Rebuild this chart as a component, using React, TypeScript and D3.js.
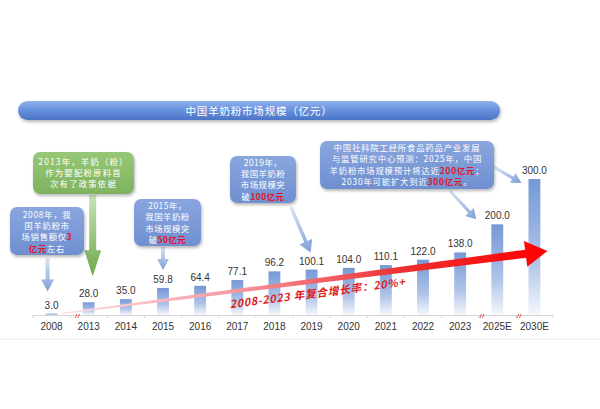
import React from "react";
import * as d3 from "d3";

const categories = ["2008", "2013", "2014", "2015", "2016", "2017", "2018", "2019", "2020", "2021", "2022", "2023", "2025E", "2030E"];
const marketSize = [3.0, 28.0, 35.0, 59.8, 64.4, 77.1, 96.2, 100.1, 104.0, 110.1, 122.0, 138.0, 200.0, 300.0];
const titleText = "中国羊奶粉市场规模（亿元）";
const cagrText = "2008-2023 年复合增长率：20%+";

type Seg = { t: string; red?: boolean };
type Note = { x: number; y: number; w: number; h: number; green?: boolean; lines: Seg[][]; lineY: number; lh: number; fs: number; ls: number };

const notes: Note[] = [
  {
    x: 10, y: 207, w: 74, h: 48, lineY: 218, lh: 11.2, fs: 8.4, ls: 0.7,
    lines: [[{ t: "2008年，我" }], [{ t: "国羊奶粉市" }], [{ t: "场销售额仅" }, { t: "3", red: true }], [{ t: "亿元", red: true }, { t: "左右" }]],
  },
  {
    x: 33, y: 152, w: 101, h: 42, green: true, lineY: 165, lh: 11.2, fs: 8.4, ls: 1.2,
    lines: [[{ t: "2013年，羊奶（粉）" }], [{ t: "作为婴配粉原料首" }], [{ t: "次有了政策依据" }]],
  },
  {
    x: 134, y: 199, w: 67, h: 47, lineY: 209, lh: 11.3, fs: 8.4, ls: 0.5,
    lines: [[{ t: "2015年，" }], [{ t: "我国羊奶粉" }], [{ t: "市场规模突" }], [{ t: "破" }, { t: "50亿元", red: true }]],
  },
  {
    x: 230, y: 156, w: 66, h: 47, lineY: 166, lh: 11.2, fs: 8.4, ls: 0.5,
    lines: [[{ t: "2019年，" }], [{ t: "我国羊奶粉" }], [{ t: "市场规模突" }], [{ t: "破" }, { t: "100亿元", red: true }]],
  },
  {
    x: 320, y: 141, w: 174, h: 48, lineY: 151, lh: 11.3, fs: 8.4, ls: 0.8,
    lines: [
      [{ t: "中国社科院工经所食品药品产业发展" }],
      [{ t: "与监管研究中心预测：2025年，中国" }],
      [{ t: "羊奶粉市场规模预计将达近" }, { t: "200亿元", red: true }, { t: "；" }],
      [{ t: "2030年可能扩大到近" }, { t: "300亿元", red: true }, { t: "。" }],
    ],
  },
];

function blockArrow(x1: number, y1: number, x2: number, y2: number, sw: number, hw: number, hl: number) {
  const dx = x2 - x1, dy = y2 - y1;
  const L = Math.hypot(dx, dy);
  const ux = dx / L, uy = dy / L;
  const px = -uy, py = ux;
  const bx = x2 - ux * hl, by = y2 - uy * hl;
  const p = (x: number, y: number) => `${x.toFixed(1)},${y.toFixed(1)}`;
  return (
    "M" + p(x1 + px * sw / 2, y1 + py * sw / 2) +
    "L" + p(bx + px * sw / 2, by + py * sw / 2) +
    "L" + p(bx + px * hw / 2, by + py * hw / 2) +
    "L" + p(x2, y2) +
    "L" + p(bx - px * hw / 2, by - py * hw / 2) +
    "L" + p(bx - px * sw / 2, by - py * sw / 2) +
    "L" + p(x1 - px * sw / 2, y1 - py * sw / 2) + "Z"
  );
}

export default function App() {
  const W = 600, H = 409;
  const x = d3.scaleBand<string>().domain(categories).range([33, 553]).paddingInner(0.68).paddingOuter(0.34);
  const y = d3.scaleLinear().domain([0, 300]).range([315, 179]);
  const cx = (c: string) => (x(c) as number) + x.bandwidth() / 2;
  const base = y(0);
  const step = x.step();

  // red CAGR arrow
  const ax1 = cx("2008") + 10, ay1 = base - 1.5;
  const ax2 = cx("2030E") + 13, ay2 = 251;
  const ang = Math.atan2(ay2 - ay1, ax2 - ax1);
  const ux = Math.cos(ang), uy = Math.sin(ang), px = -uy, py = ux;
  const headL = 22, headW = 26;
  const hbx = ax2 - ux * headL, hby = ay2 - uy * headL;
  const w0 = 1.5, w1 = 8;
  const q = (a: number, b: number) => `${a.toFixed(1)},${b.toFixed(1)}`;
  const redPath =
    "M" + q(ax1 + px * w0 / 2, ay1 + py * w0 / 2) +
    "L" + q(hbx + px * w1 / 2, hby + py * w1 / 2) +
    "L" + q(hbx + px * headW / 2, hby + py * headW / 2) +
    "L" + q(ax2, ay2) +
    "L" + q(hbx - px * headW / 2, hby - py * headW / 2) +
    "L" + q(hbx - px * w1 / 2, hby - py * w1 / 2) +
    "L" + q(ax1 - px * w0 / 2, ay1 - py * w0 / 2) + "Z";
  const angDeg = (ang * 180) / Math.PI;

  const arrows = [
    { id: "a1", x1: cx("2008") - 4, y1: 258, x2: cx("2008") - 4, y2: y(3) - 22, sw: 4, hw: 13, hl: 12, green: false },
    { id: "a2", x1: cx("2013") + 4, y1: 195, x2: cx("2013") + 4, y2: y(28) - 26, sw: 7, hw: 17, hl: 26, green: true },
    { id: "a3", x1: cx("2015"), y1: 247, x2: cx("2015"), y2: y(59.8) - 18, sw: 4, hw: 12, hl: 11, green: false },
    { id: "a4", x1: 291, y1: 207, x2: cx("2019") - 1, y2: y(100.1) - 17, sw: 3.5, hw: 14, hl: 12, green: false },
    { id: "a5", x1: 450, y1: 191, x2: cx("2025E") - 21, y2: y(200) - 5, sw: 3, hw: 12, hl: 10, green: false },
    { id: "a6", x1: 494, y1: 167, x2: cx("2030E") - 13, y2: y(300) + 4, sw: 3, hw: 11, hl: 10, green: false },
  ];

  const font = "'Liberation Sans', Arial, sans-serif";
  const cjk = "'Noto Sans CJK SC', 'Noto Sans', sans-serif";

  return (
    <svg width={W} height={H} viewBox={`0 0 ${W} ${H}`} style={{ position: "absolute", left: 0, top: 0, background: "#fff" }}>
      <defs>
        <linearGradient id="barGrad" x1="0" y1="0" x2="0" y2="1">
          <stop offset="0%" stopColor="#7598d6" />
          <stop offset="60%" stopColor="#aec3e8" />
          <stop offset="100%" stopColor="#f4f7fc" />
        </linearGradient>
        <linearGradient id="titleGrad" x1="0" y1="0" x2="0" y2="1">
          <stop offset="0%" stopColor="#8fb0ea" />
          <stop offset="45%" stopColor="#6a93df" />
          <stop offset="100%" stopColor="#4a74c6" />
        </linearGradient>
        <linearGradient id="noteBlue" x1="0" y1="0" x2="0" y2="1">
          <stop offset="0%" stopColor="#89a6de" />
          <stop offset="100%" stopColor="#6f8fd0" />
        </linearGradient>
        <linearGradient id="noteGreen" x1="0" y1="0" x2="0" y2="1">
          <stop offset="0%" stopColor="#97c776" />
          <stop offset="100%" stopColor="#7fb35f" />
        </linearGradient>
        <linearGradient id="redGrad" gradientUnits="userSpaceOnUse" x1={ax1} y1={ay1} x2={ax2} y2={ay2}>
          <stop offset="0%" stopColor="#fbe3e6" />
          <stop offset="35%" stopColor="#f59aa2" />
          <stop offset="70%" stopColor="#ee3030" />
          <stop offset="100%" stopColor="#ff0000" />
        </linearGradient>
        {arrows.map((a) => (
          <linearGradient key={a.id} id={a.id} gradientUnits="userSpaceOnUse" x1={a.x1} y1={a.y1} x2={a.x2} y2={a.y2}>
            <stop offset="0%" stopColor={a.green ? "#c9e2b5" : "#dbe5f5"} />
            <stop offset="100%" stopColor={a.green ? "#6ea84c" : "#7f9fd8"} />
          </linearGradient>
        ))}
        <filter id="shadow" x="-20%" y="-20%" width="140%" height="150%">
          <feDropShadow dx="1" dy="2" stdDeviation="1.6" floodColor="#000" floodOpacity="0.28" />
        </filter>
      </defs>

      {/* title bar */}
      <rect x={18} y={101} width={482} height={19} rx={9.5} fill="url(#titleGrad)" filter="url(#shadow)" />
      <text x={259} y={114.5} textAnchor="middle" fontSize={10.5} fill="#fff" fontFamily={cjk} letterSpacing={0.8}>
        {titleText}
      </text>

      {/* bottom faint line */}
      <line x1={0} x2={W} y1={339} y2={339} stroke="#ececec" strokeWidth={1} />

      {/* bars */}
      {categories.map((c, i) => (
        <rect key={c} x={x(c)} y={y(marketSize[i])} width={x.bandwidth()} height={base - y(marketSize[i])} fill="url(#barGrad)" />
      ))}

      {/* axis */}
      <line x1={33} x2={553} y1={base + 0.5} y2={base + 0.5} stroke="#d6d6d6" strokeWidth={1} />
      {d3.range(categories.length + 1).map((i) => (
        <line key={i} x1={33 + i * step} x2={33 + i * step} y1={base} y2={base + 3} stroke="#d6d6d6" strokeWidth={1} />
      ))}
      {categories.map((c) => (
        <text key={c} x={cx(c)} y={330} textAnchor="middle" fontSize={10} fill="#333" fontFamily={font}>
          {c}
        </text>
      ))}

      {/* break marks */}
      {[33 + step, 33 + 12 * step - 4, 33 + 13 * step - 4].map((bx, i) => (
        <g key={i} stroke="#e03030" strokeWidth={0.8}>
          <line x1={bx + 5} y1={base + 3} x2={bx + 7} y2={base - 1} />
          <line x1={bx + 7.5} y1={base + 3} x2={bx + 9.5} y2={base - 1} />
        </g>
      ))}

      {/* value labels */}
      {categories.map((c, i) => (
        <text key={c} x={cx(c)} y={y(marketSize[i]) - 5} textAnchor="middle" fontSize={10} fill="#333" fontFamily={font}>
          {marketSize[i].toFixed(1)}
        </text>
      ))}

      {/* CAGR arrow */}
      <path d={redPath} fill="url(#redGrad)" />
      <text
        transform={`translate(318,297) rotate(${angDeg})`}
        textAnchor="middle"
        fontSize={10.8}
        fontWeight="bold"
        fontStyle="italic"
        fill="#e01b24"
        fontFamily={cjk}
        letterSpacing={0.7}
      >
        {cagrText}
      </text>

      {/* annotation arrows */}
      {arrows.map((a) => (
        <path key={a.id} d={blockArrow(a.x1, a.y1, a.x2, a.y2, a.sw, a.hw, a.hl)} fill={`url(#${a.id})`} />
      ))}

      {/* annotation boxes */}
      {notes.map((n, i) => (
        <g key={i}>
          <rect x={n.x} y={n.y} width={n.w} height={n.h} rx={7} fill={n.green ? "url(#noteGreen)" : "url(#noteBlue)"} filter="url(#shadow)" />
          {n.lines.map((line, j) => (
            <text
              key={j}
              x={n.x + n.w / 2}
              y={n.lineY + j * n.lh}
              textAnchor="middle"
              fontSize={n.fs}
              fill="#fff"
              fontFamily={cjk}
              letterSpacing={n.ls}
            >
              {line.map((s, k) => (
                <tspan key={k} fill={s.red ? "#e8102a" : "#fff"} fontWeight={s.red ? "bold" : "normal"}>
                  {s.t}
                </tspan>
              ))}
            </text>
          ))}
        </g>
      ))}
    </svg>
  );
}
